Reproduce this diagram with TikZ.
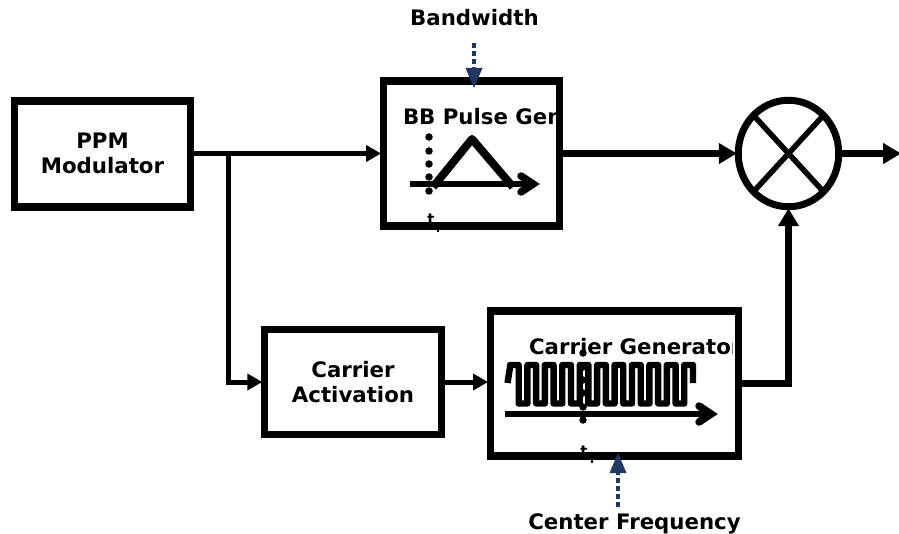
\documentclass[tikz,border=0pt]{standalone}
\usepackage{fontspec}
\setmainfont{DejaVu Sans}
\usetikzlibrary{arrows.meta,shapes.geometric,calc}
\definecolor{navy}{HTML}{1F3864}
\tikzset{
  x=1pt,y=-1pt,
  lbl/.style={font=\bfseries\fontsize{21.3}{25}\selectfont,inner sep=0pt,outer sep=0pt,align=center,text=black},
  blockbox/.style={draw=black,line width=7.4pt,inner sep=0pt,align=center,font=\bfseries\fontsize{21.3}{25.5}\selectfont,text=black},
  conn/.style={draw=black,line width=5pt,shorten >=-1.5pt,-{Triangle[length=15pt,width=16pt]}},
  connb/.style={draw=black,line width=6.5pt,shorten >=-2pt,-{Triangle[length=18pt,width=20pt]}},
  plotline/.style={draw=black,line width=8pt,line join=round,line cap=butt},
  wave/.style={draw=black,line width=6.4pt,line join=round,line cap=butt},
  chevron/.style={draw=black,line width=7.5pt,line join=miter,line cap=round},
  plotdot/.style={fill=black,circle,inner sep=0pt,minimum size=7.5pt},
  dashconn/.style={draw=navy,line width=4.5pt,dash pattern=on 5pt off 3pt},
  navytip/.style={fill=navy},
  smallt/.style={font=\bfseries\fontsize{15}{15}\selectfont,inner sep=0pt,text=black},
}
\begin{document}
\begin{tikzpicture}
\useasboundingbox (0,0) rectangle (899,534);
% small time labels (partly hidden by the boxes)
\node[smallt,anchor=base] (t1) at (431,225) {t};
\node[smallt,anchor=base] (t2) at (584,456) {t};
% blocks
\node[blockbox,minimum width=176.5pt,minimum height=106pt] (ppm) at (102.5,154) {\raisebox{1pt}{PPM}\\[-0.5pt]\raisebox{1pt}{Modulator}};
\node[blockbox,minimum width=176.5pt,minimum height=145pt] (bb) at (471.5,153.5) {};
\node[blockbox,minimum width=177pt,minimum height=105pt] (ca) at (353,382) {Carrier\\Activation};
\node[blockbox,minimum width=248.5pt,minimum height=145pt] (cg) at (614.5,383.5) {};
\node[draw=black,line width=7pt,ellipse,inner sep=0pt,minimum width=100.5pt,minimum height=106.5pt] (mix) at (788.5,153.5) {};
\draw[line width=5.5pt] ([shift={(-33,-36)}]mix.center) -- ([shift={(33,36)}]mix.center);
\draw[line width=5.5pt] ([shift={(33,-36)}]mix.center) -- ([shift={(-33,36)}]mix.center);
\coordinate (end) at (901,153.5);
\coordinate (branch) at (228,153.5);
% connectors
\draw[conn] (ppm.east |- bb.west) -- (bb.west);
\draw[conn] (branch) |- (ca.west);
\draw[conn] (ca.east) -- (ca.east -| cg.west);
\draw[connb] (bb.east) -- (mix.west);
\draw[connb,shorten >=0pt] (mix.east) -- (end);
\draw[connb] (cg.east) -| (mix.south);
% BB pulse generator content
\begin{scope}
\clip (388,86) rectangle (555,222);
\node[lbl,anchor=base west] (bbt) at (403,125) {BB Pulse Gen};
\end{scope}
\foreach \y/\n in {137/a,151/b,164/c,177/d,191/e}
  \node[plotdot] (p\n) at (429,\y) {};
\draw[plotline] (433,187) -- (472,139) -- (513,187);
\coordinate (ax1s) at (410,184);
\coordinate (ax1e) at (533,184);
\draw[draw=black,line width=6.8pt] (ax1s) -- (ax1e);
\draw[chevron] (521,176) -- (ax1e) -- (521,192);
\draw[line width=1.5pt] (438,227) -- (438,232);
% Carrier generator content
\begin{scope}
\clip (495,318) rectangle (732,450);
\node[lbl,anchor=base west] (cgt) at (529,355) {Carrier Generator};
\end{scope}
\draw[wave] (507.5,383) -- (510,367.5)
  \foreach \k in {0,2,...,18} {
    -- ({510+8.714*\k},365)
    -- ({510+8.714*(\k+1)},365) -- ({510+8.714*(\k+1)},403.5)
    -- ({510+8.714*(\k+2)},403.5) -- ({510+8.714*(\k+2)},365)
  }
  -- (693,365) -- (693,383);
\foreach \y/\n in {353/a,367/b,380/c,393/d,407/e,420/f}
  \node[plotdot] (q\n) at (583,\y) {};
\coordinate (ax2s) at (505,414);
\coordinate (ax2e) at (711,414);
\draw[draw=black,line width=6.8pt] (ax2s) -- (ax2e);
\draw[chevron] (699,406) -- (ax2e) -- (699,422);
\draw[line width=1.5pt] (592,458) -- (592,463);
% external labels
\node[lbl,anchor=base] (bw) at (474.5,26) {Bandwidth};
\node[lbl,anchor=base] (cf) at (634.5,529) {Center Frequency};
\coordinate (bwa) at (474,43);
\coordinate (bwb) at (474,68);
\coordinate (cfa) at (618,507);
\coordinate (cfb) at (618,473);
\draw[dashconn] (bwa) -- (bwb);
\fill[navytip] (465.5,68) -- (482.5,68) -- (474,88) -- cycle;
\draw[dashconn] (cfa) -- (cfb);
\fill[navytip] (609.5,473) -- (626.5,473) -- (618,453) -- cycle;
\end{tikzpicture}
\end{document}
